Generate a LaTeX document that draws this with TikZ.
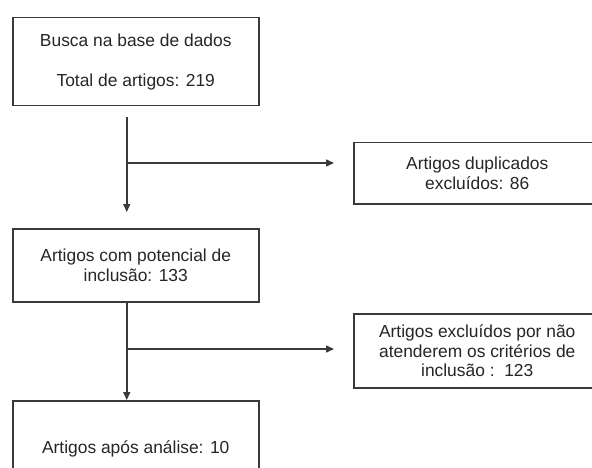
\documentclass[tikz,border=0pt]{standalone}
\usepackage{fontspec}
\setmainfont{Liberation Sans}
\usetikzlibrary{arrows.meta}
\definecolor{linec}{HTML}{3A3A3A}
\definecolor{textc}{HTML}{262626}
\begin{document}
\begin{tikzpicture}[x=1pt,y=-1pt,
  box/.style={draw=linec, line width=1.5pt, rectangle, anchor=north west, align=center,
    text=textc, inner sep=0pt, font=\fontsize{17.4}{19.6}\selectfont},
  arr/.style={draw=linec, line width=1.5pt, -{Triangle[length=8pt,width=7pt]}}]
\useasboundingbox (0,0) rectangle (592,468);
\clip (0,0) rectangle (592,468);
\fill[white] (0,0) rectangle (592,468);
\node[box, minimum width=246pt, minimum height=88pt] (b1) at (12,17)
  {Busca na base de dados\\[20pt]Total de artigos: 219};
\node[box, minimum width=247pt, minimum height=61pt] (b2) at (353,142)
  {Artigos duplicados\\excluídos: 86};
\node[box, minimum width=246pt, minimum height=73pt] (b3) at (12,228)
  {Artigos com potencial de\\inclusão: 133};
\node[box, minimum width=247pt, minimum height=74pt] (b5) at (353,313)
  {Artigos excluídos por não\\atenderem os critérios de\\inclusão :\ \ 123};
\node[box, minimum width=246pt, minimum height=96pt] (b4) at (12,400)
  {Artigos após análise: 10};
\coordinate (j1) at (126,163);
\coordinate (j2) at (126,349);
\draw[arr] ([xshift=-9pt,yshift=-11pt]b1.south) -- ([xshift=-9pt,yshift=16pt]b3.north);
\draw[arr] (j1) -- ([xshift=-19pt]b2.west |- j1);
\draw[arr] ([xshift=-9pt]b3.south) -- ([xshift=-9pt]b4.north);
\draw[arr] (j2) -- ([xshift=-19pt]b5.west |- j2);
\end{tikzpicture}
\end{document}
